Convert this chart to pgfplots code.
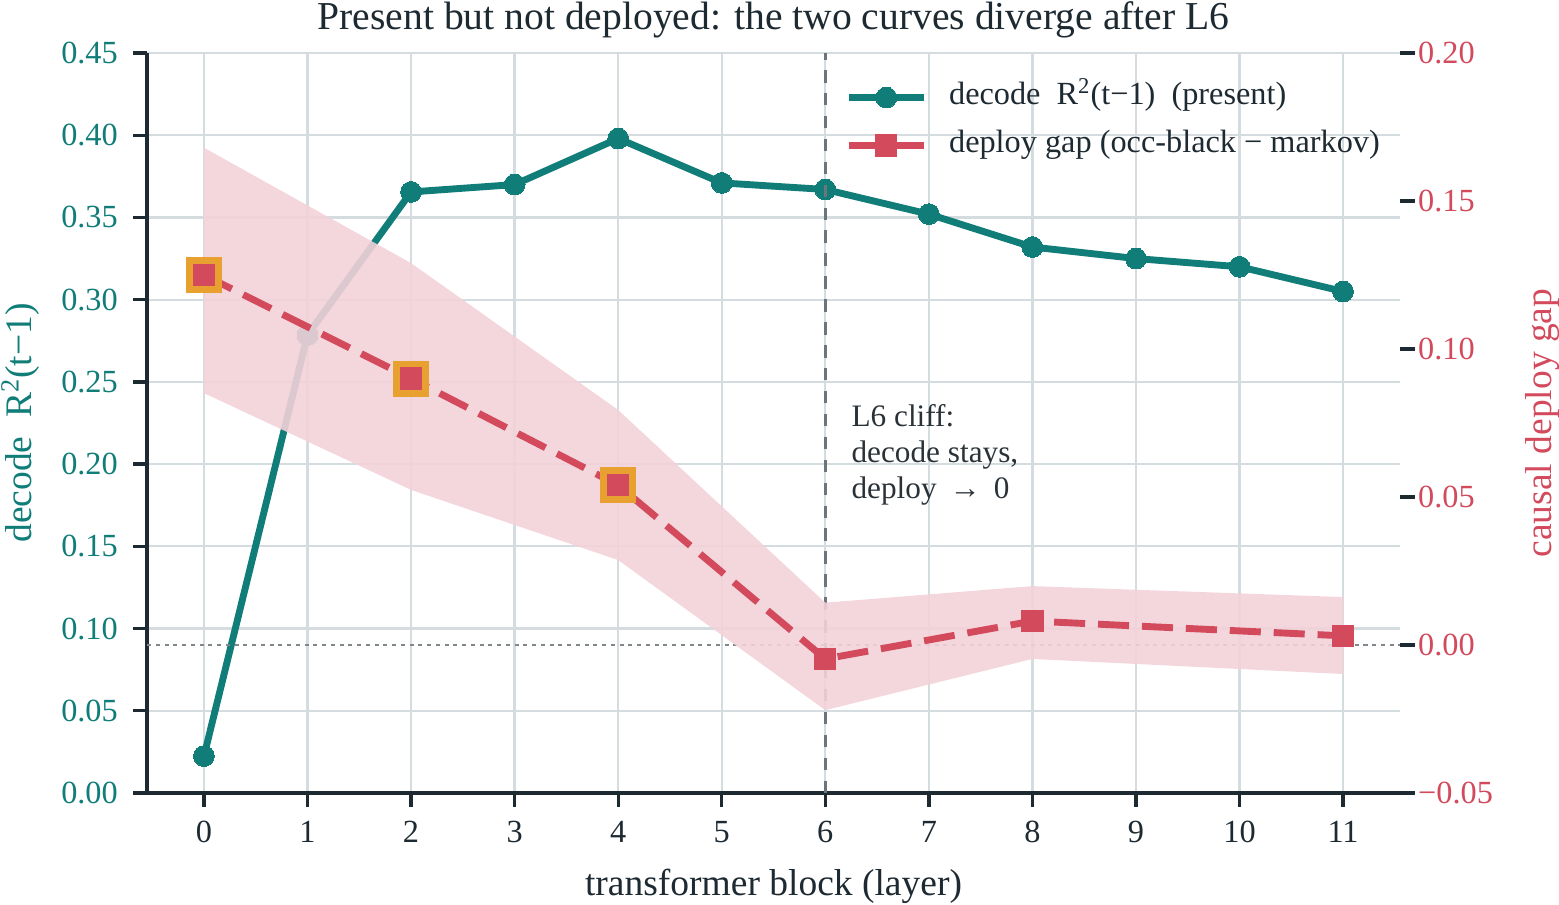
\documentclass[border=0pt]{standalone}
\usepackage{pgfplots}
\pgfplotsset{compat=1.18}
\usetikzlibrary{calc}
\usepackage{fontspec}
\setmainfont{Liberation Serif}
\definecolor{tealc}{HTML}{107D78}
\definecolor{redc}{HTML}{D24A5C}
\definecolor{orangec}{HTML}{E8A130}
\definecolor{bandc}{HTML}{F3D1D9}
\definecolor{gridc}{HTML}{D5DCDF}
\definecolor{spine}{HTML}{1E2A32}
\definecolor{vlinec}{HTML}{6B767C}
\definecolor{zeroc}{HTML}{80888C}
\definecolor{annc}{HTML}{2A3238}
\begin{document}
\begin{tikzpicture}
\begin{axis}[name=ax, scale only axis, width=601.4pt, height=355.2pt,
  xmin=-0.55, xmax=11.55, ymin=0, ymax=0.45,
  axis x line*=bottom, axis y line*=left,
  axis line style={-, draw=spine, line width=2pt},
  xtick={0,1,2,3,4,5,6,7,8,9,10,11},
  xticklabels={0,1,2,3,4,5,6,7,8,9,10,11},
  ytick={0,0.05,0.10,0.15,0.20,0.25,0.30,0.35,0.40,0.45},
  yticklabels={0.00,0.05,0.10,0.15,0.20,0.25,0.30,0.35,0.40,0.45},
  tick align=outside, major tick length=6.5pt,
  every tick/.style={draw=spine, line width=1.6pt},
  xmajorgrids, ymajorgrids, grid style={draw=gridc, line width=1.1pt},
  yticklabel style={text=tealc, font=\fontsize{15.5}{18}\selectfont, xshift=-4pt},
  xticklabel style={text=spine, font=\fontsize{15.5}{18}\selectfont, yshift=-3.6pt},
  xlabel={transformer block (layer)},
  xlabel style={at={(axis description cs:0.5,-0.126)}, anchor=center, text=spine, font=\fontsize{18}{21}\selectfont},
  ylabel={decode\ \ R\textsuperscript{2}(t−1)},
  ylabel style={at={(axis description cs:-0.101,0.5)}, anchor=center, text=tealc, font=\fontsize{18}{21}\selectfont},
]
\addplot[tealc, line width=3.3pt, mark=*, mark size=5pt, mark options={solid, fill=tealc, draw=tealc, line width=0pt}]
  coordinates {(0,0.0225)(1,0.2785)(2,0.3655)(3,0.370)(4,0.398)(5,0.371)(6,0.367)(7,0.352)(8,0.332)(9,0.325)(10,0.320)(11,0.305)};
\end{axis}
\begin{axis}[scale only axis, width=601.4pt, height=355.2pt,
  xmin=-0.55, xmax=11.55, ymin=-0.05, ymax=0.20,
  axis y line*=right, axis x line=none,
  y axis line style={draw=none},
  ytick={-0.05,0,0.05,0.10,0.15,0.20},
  yticklabels={−0.05,0.00,0.05,0.10,0.15,0.20},
  tick align=outside, major tick length=7.2pt,
  every tick/.style={draw=spine, line width=1.6pt},
  yticklabel style={text=redc, font=\fontsize{15.5}{18}\selectfont, xshift=-2pt},
  ylabel={causal deploy gap},
  ylabel style={at={(axis description cs:1.114,0.5)}, anchor=center, text=redc, font=\fontsize{18}{21}\selectfont},
  legend style={at={(axis description cs:0.557,0.9615)}, anchor=north west, draw=none, fill=none,
    inner sep=0pt, column sep=10.5pt, row sep=8pt,
    nodes={inner sep=0pt, text height=11pt, text depth=4pt, font=\fontsize{15.5}{18}\selectfont, text=spine}},
  legend cell align=left,
  legend image code/.code={\draw[mark repeat=2, mark phase=2, #1] plot coordinates {(0pt,0pt)(18pt,0pt)(36pt,0pt)};},
]
\addlegendimage{tealc, line width=3.3pt, mark=*, mark size=5pt, mark options={solid, fill=tealc, draw=tealc, line width=0pt}}
\addlegendentry{decode\ \ R\textsuperscript{2}(t−1)\ \ (present)}
% vertical dashed at L6 and zero line
\addplot[forget plot, vlinec, line width=1.4pt, dash pattern=on 6pt off 5pt] coordinates {(6,-0.05)(6,0.20)};
\addplot[forget plot, zeroc, line width=1.1pt, dash pattern=on 2pt off 2.2pt] coordinates {(-0.55,0)(11.55,0)};
% band (upper edge forward, lower edge back)
\addplot[forget plot, fill=bandc, fill opacity=0.9, draw=none]
  coordinates {(0,0.168)(2,0.129)(4,0.0794)(6,0.0143)(8,0.0199)(11,0.0162)
               (11,-0.0098)(8,-0.0047)(6,-0.022)(4,0.0287)(2,0.0524)(0,0.0851)} -- cycle;
% highlight squares
\addplot[forget plot, only marks, mark=square, mark size=6.85pt, mark options={draw=orangec, line width=3.5pt}]
  coordinates {(0,0.125)(2,0.090)(4,0.054)};
\addplot[redc, line width=3.3pt, dash pattern=on 14.9pt off 6.2pt, mark=square*, mark size=5.1pt, mark options={solid, fill=redc, draw=redc, line width=0pt}]
  coordinates {(0,0.125)(2,0.090)(4,0.054)(6,-0.0047)(8,0.0081)(11,0.0031)};
\addlegendentry{deploy gap (occ-black − markov)}
\node[anchor=north west, align=left, text=annc, font=\fontsize{15}{17.2}\selectfont, inner sep=0pt] at (axis cs:6.25,0.0813) {L6 cliff:\\decode stays,\\deploy\,\ →\,\ 0};
\end{axis}
\node[anchor=base, inner sep=0pt, text=spine, font=\fontsize{19}{22}\selectfont] at ($(ax.north)+(0,11.5pt)$) {Present but not deployed: the two curves diverge after L6};
\pgfresetboundingbox
\useasboundingbox ($(ax.south west)+(-70.56pt,-53.28pt)$) rectangle ($(ax.north east)+(76.32pt,25.44pt)$);
\end{tikzpicture}
\end{document}
